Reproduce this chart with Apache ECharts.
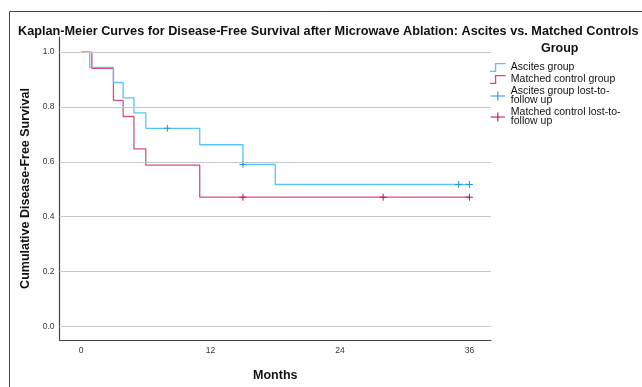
<!DOCTYPE html>
<html>
<head>
<meta charset="utf-8">
<script src="https://cdn.jsdelivr.net/npm/echarts@6/dist/echarts.min.js"></script>
<style>html,body{margin:0;padding:0;background:#fff}#c{width:642px;height:387px}</style>
</head>
<body>
<div id="c"></div>
<script>
// Kaplan-Meier step data [month, survival]
const ascitesCurve = [[0,1.0],[0.8,0.944],[3.0,0.889],[3.9,0.833],[4.9,0.778],[6.0,0.722],[11.0,0.662],[15.0,0.590],[18.0,0.517],[36.0,0.517]];
const controlCurve = [[0,1.0],[1.0,0.941],[3.0,0.824],[3.9,0.765],[4.9,0.647],[6.0,0.588],[11.0,0.471],[36.0,0.471]];
const ascitesCensored = [[8.0,0.722],[15.0,0.590],[35.0,0.517],[36.0,0.517]];
const controlCensored = [[15.0,0.471],[28.0,0.471],[36.0,0.471]];
const xTicks = [0,12,24,36];
const yTicks = [0,0.2,0.4,0.6,0.8,1.0];
const seriesNames = ['Ascites group','Matched control group','Ascites group lost-to-follow up','Matched control lost-to-follow up'];

const blue = '#55c6f2', red = '#cf5183', blueDark = '#1f9ad8', redDark = '#b3124f';
const plusPath = 'path://M4.3,0h1.4v4.3h4.3v1.4h-4.3v4.3h-1.4v-4.3h-4.3v-1.4h4.3z';
const plusLegend = 'path://M7.4,0h1.2v4.4h7.4v1.2h-7.4v4.4h-1.2v-4.4h-7.4v-1.2h7.4z';
const stepPath = 'path://M0,7.8L5,7.8L5,0L16,0L16,1.4L6.4,1.4L6.4,9.2L0,9.2Z';
const font = '"Liberation Sans", Arial, sans-serif';

const chart = echarts.init(document.getElementById('c'), null, {renderer:'canvas'});
chart.setOption({
  animation:false,
  backgroundColor:'#fff',
  title:{text:'Kaplan-Meier Curves for Disease-Free Survival after Microwave Ablation: Ascites vs. Matched Controls',
    left:13, top:20, textStyle:{fontFamily:font, fontSize:12.7, fontWeight:'bold', color:'#111'}},
  graphic:[
    {type:'rect', shape:{x:9.5,y:11.5,width:700,height:400}, style:{fill:'none', stroke:'#444', lineWidth:1}, silent:true},
    {type:'text', left:541, top:42, style:{text:'Group', fontFamily:font, fontSize:12.5, fontWeight:'bold', fill:'#111'}}
  ],
  legend:{
    orient:'vertical', left:485, top:57, itemWidth:16, itemHeight:9, itemGap:1,
    textStyle:{fontFamily:font, fontSize:10.5, color:'#111', lineHeight:9},
    formatter:n=>n.replace('lost-to-follow up','lost-to-\nfollow up'),
    data:[
      {name:seriesNames[0], icon:stepPath},
      {name:seriesNames[1], icon:stepPath},
      {name:seriesNames[2], icon:plusLegend},
      {name:seriesNames[3], icon:plusLegend}
    ]
  },
  grid:{left:59.5, top:37, right:151, bottom:43},
  xAxis:{type:'value', min:-2, max:38,
    name:'Months', nameLocation:'middle', nameGap:29,
    nameTextStyle:{fontFamily:font, fontSize:12.5, fontWeight:'bold', color:'#111'},
    axisLine:{onZero:false, lineStyle:{color:'#444', width:1.2}},
    axisTick:{show:false},
    axisLabel:{customValues:xTicks, fontFamily:font, fontSize:8.5, color:'#333', margin:6},
    splitLine:{show:false}},
  yAxis:{type:'value', min:-0.05, max:1.055,
    name:'Cumulative Disease-Free Survival', nameLocation:'middle', nameGap:20,
    nameTextStyle:{fontFamily:font, fontSize:12.5, fontWeight:'bold', color:'#111'},
    axisLine:{show:true, onZero:false, lineStyle:{color:'#444', width:1.2}},
    axisTick:{show:false},
    axisLabel:{customValues:yTicks, formatter:v=>v.toFixed(1), fontFamily:font, fontSize:8.5, color:'#333', margin:5},
    splitLine:{show:false}},
  series:[
    {name:'grid', type:'line', data:[], silent:true,
      markLine:{silent:true, symbol:'none', label:{show:false},
        lineStyle:{color:'#c8c8c8', width:1, type:'solid'},
        data:yTicks.map(v=>({yAxis:v}))}},
    {name:seriesNames[0], type:'line', step:'end', data:ascitesCurve, showSymbol:false, symbol:'none',
      lineStyle:{color:blue, width:1.3}, itemStyle:{color:blue}, z:3},
    {name:seriesNames[1], type:'line', step:'end', data:controlCurve, showSymbol:false, symbol:'none',
      lineStyle:{color:red, width:1.3}, itemStyle:{color:red}, z:2},
    {name:seriesNames[2], type:'scatter', data:ascitesCensored, symbol:plusPath, symbolSize:7,
      itemStyle:{color:blueDark, opacity:1}, z:4},
    {name:seriesNames[3], type:'scatter', data:controlCensored, symbol:plusPath, symbolSize:7,
      itemStyle:{color:redDark, opacity:1}, z:4}
  ]
});
</script>
</body>
</html>
